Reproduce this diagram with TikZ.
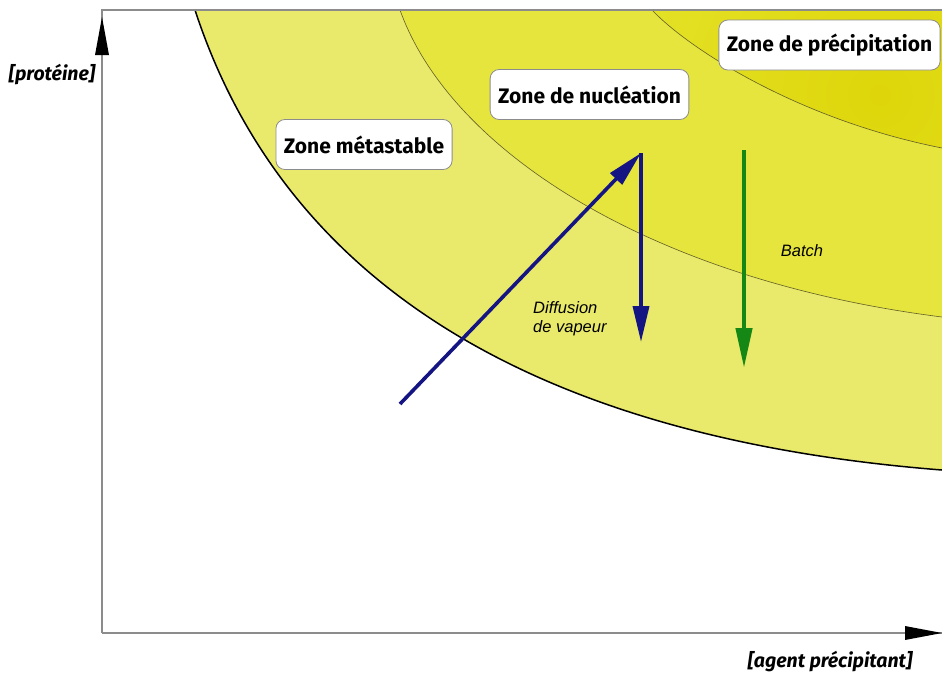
\documentclass[tikz,border=0pt]{standalone}
\usepackage{fontspec}
\usetikzlibrary{arrows.meta}
\newfontfamily\boxfont{Fira Sans}
\newfontfamily\axfont{Fira Sans}
\newfontfamily\lblfont{Liberation Sans}
\definecolor{zmeta}{RGB}{233,233,108}
\definecolor{znucl}{RGB}{229,229,62}
\definecolor{zprec}{RGB}{228,226,40}
\definecolor{zprecdark}{RGB}{222,214,10}
\definecolor{navyarr}{RGB}{20,20,130}
\definecolor{greenarr}{RGB}{20,135,20}
\definecolor{framegray}{RGB}{140,140,140}
\tikzset{
  zonebox/.style={draw=framegray, line width=0.8pt, fill=white, rounded corners=9pt,
    inner xsep=8pt, minimum height=50pt, font=\boxfont\bfseries\fontsize{21}{24}\selectfont},
  axlabel/.style={font=\axfont\bfseries\itshape\fontsize{19.5}{22}\selectfont},
  arrlabel/.style={font=\lblfont\itshape\fontsize{16.5}{19}\selectfont, align=left},
  bluearr/.style={draw=navyarr, line width=3.6pt, -{Triangle[length=36pt,width=16pt]}},
  greenarr/.style={draw=greenarr, line width=4.4pt, -{Triangle[length=40pt,width=16pt]}},
  axisline/.style={draw=framegray, line width=1.4pt}
}
\begin{document}
\begin{tikzpicture}[x=1pt,y=-1pt]
\useasboundingbox (0,0) rectangle (942,675);
% zones
\fill[zmeta] (942,10) -- (195,10) .. controls (290,300) and (560,440) .. (942,470) -- cycle;
\fill[znucl] (942,10) -- (400,10) .. controls (450,150) and (650,280) .. (942,317) -- cycle;
\begin{scope}
\clip (942,10) -- (652,10) .. controls (690,50) and (800,120) .. (942,148) -- cycle;
\shade[inner color=zprecdark, outer color=zprec] (880,95) circle (260);
\end{scope}
% boundaries
\draw[black, line width=1.5pt] (195,10) .. controls (290,300) and (560,440) .. (942,470);
\draw[black!40!olive, line width=0.6pt] (400,10) .. controls (450,150) and (650,280) .. (942,317);
\draw[black!40!olive, line width=0.6pt] (652,10) .. controls (690,50) and (800,120) .. (942,148);
% frame and axes
\coordinate (o) at (102,633);
\coordinate (ytop) at (102,10);
\coordinate (xend) at (942,633);
\coordinate (ytip) at (102,17);
\coordinate (tr) at (942,10);
\draw[axisline] (o) -- (ytop) -- (tr);
\draw[axisline] (o) -- (xend);
\fill[black] (ytip) -- ++(-7,38) -- ++(14,0) -- cycle;
\fill[black] (xend) -- ++(-37,-7) -- ++(0,14) -- cycle;
\node[axlabel] (ylab) at (52,75) {[protéine]};
\node[axlabel] (xlab) at (830,662) {[agent précipitant]};
% zone boxes
\node[zonebox] (meta) at (364,144.5) {Zone métastable};
\node[zonebox] (nucl) at (589.5,94.5) {Zone de nucléation};
\node[zonebox] (prec) at (829.5,45) {Zone de précipitation};
% arrows
\coordinate (ds) at (400,404);
\coordinate (dt) at (641,153);
\coordinate (de) at (641,342);
\draw[bluearr] (ds) -- (dt);
\draw[bluearr] (dt) -- (de);
\coordinate (bs) at (744,150);
\coordinate (be) at (744,368);
\draw[greenarr] (bs) -- (be);
\node[arrlabel, anchor=west, inner sep=0pt] (dlab) at (533,319) {Diffusion\\de vapeur};
\node[arrlabel] (blab) at (802,251) {Batch};
\end{tikzpicture}
\end{document}
